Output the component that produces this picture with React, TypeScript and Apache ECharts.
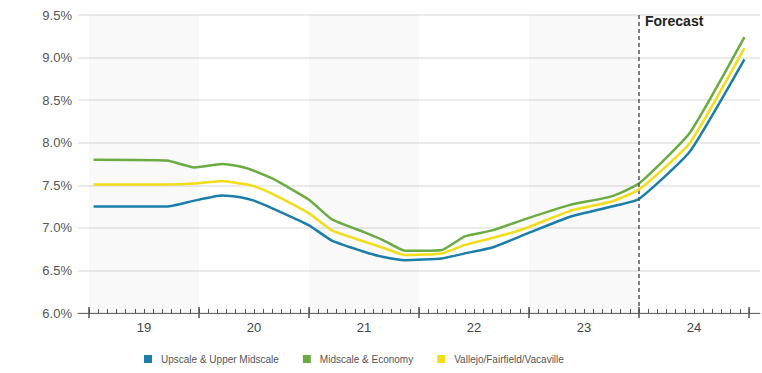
import React, { useEffect, useRef } from "react";
import * as echarts from "echarts";

// Month positions (0 = start of 2019) of the readings
const months = [0.5, 8.5, 11.5, 14.5, 16.5, 18, 20, 24, 26.5, 30, 32, 34.5, 38.5, 41, 44, 47.5, 52.5, 57, 60, 65.5, 71.5];

const upscale = [7.25, 7.25, 7.32, 7.38, 7.36, 7.32, 7.23, 7.03, 6.85, 6.72, 6.66, 6.62, 6.64, 6.70, 6.77, 6.92, 7.13, 7.25, 7.34, 7.89, 8.98];
const midscale = [7.80, 7.79, 7.71, 7.75, 7.72, 7.67, 7.58, 7.33, 7.10, 6.95, 6.86, 6.73, 6.74, 6.90, 6.97, 7.10, 7.27, 7.37, 7.52, 8.11, 9.24];
const market = [7.51, 7.51, 7.52, 7.55, 7.52, 7.49, 7.40, 7.17, 6.97, 6.84, 6.77, 6.68, 6.70, 6.80, 6.88, 6.99, 7.20, 7.31, 7.45, 7.99, 9.11];

const seriesNames = ["Upscale & Upper Midscale", "Midscale & Economy", "Vallejo/Fairfield/Vacaville"];
const seriesColors = ["#1b7ea8", "#6aac42", "#f3dc18"];

const yearLabels = ["19", "20", "21", "22", "23", "24"];
const yearStarts = [0, 12, 24, 36, 48, 60, 72];
const shadedYears = [[0, 12], [24, 36], [48, 60]];
const forecastStart = 60;

const FONT = "Liberation Sans, Arial, sans-serif";

export default function App() {
  const ref = useRef<HTMLDivElement>(null);

  useEffect(() => {
    if (!ref.current) return;
    const chart = echarts.init(ref.current, null, { renderer: "svg" });
    const monthTicks = Array.from({ length: 73 }, (_, i) => i);
    const labelValues = yearLabels.map((_, i) => i * 12 + 6);
    const toPairs = (vals: number[]) => months.map((m, i) => [m, vals[i]]);

    // extra tick-only axes sharing the bottom edge
    const tickAxis = (values: number[], length: number, width: number) => ({
      type: "value",
      min: -1.2,
      max: 73.2,
      position: "bottom",
      axisLine: { show: false },
      axisTick: {
        show: true,
        inside: true,
        customValues: values,
        length,
        lineStyle: { color: "#555", width },
      },
      axisLabel: { show: false },
      splitLine: { show: false },
    });

    chart.setOption({
      animation: false,
      backgroundColor: "#ffffff",
      textStyle: { fontFamily: FONT },
      grid: { left: 78, right: 2, top: 15, bottom: 60 },
      legend: {
        bottom: 4,
        left: 139,
        icon: "rect",
        itemWidth: 8,
        itemHeight: 8,
        itemGap: 24,
        textStyle: { fontSize: 10, color: "#555", fontFamily: FONT, padding: [0, 0, 0, 4] },
        data: seriesNames,
      },
      xAxis: [
        {
          type: "value",
          min: -1.2,
          max: 73.2,
          axisLine: { show: true, lineStyle: { color: "#666", width: 1 } },
          axisTick: {
            show: true,
            customValues: yearStarts,
            length: 5,
            lineStyle: { color: "#555", width: 1.5 },
          },
          axisLabel: {
            customValues: labelValues,
            formatter: (v: number) => yearLabels[Math.round((v - 6) / 12)] ?? "",
            color: "#444",
            fontSize: 13,
            margin: 8,
            fontFamily: FONT,
          },
          splitLine: { show: false },
        },
        tickAxis(monthTicks, 4, 1),
        tickAxis(yearStarts, 6, 1.5),
      ],
      yAxis: {
        type: "value",
        min: 6,
        max: 9.5,
        interval: 0.5,
        axisLine: { show: false },
        axisTick: { show: false },
        axisLabel: {
          formatter: (v: number) => v.toFixed(1) + "%",
          color: "#555",
          fontSize: 13,
          margin: 6,
          fontFamily: FONT,
        },
        splitLine: { show: true, lineStyle: { color: "#e4e4e4", width: 1.5 } },
      },
      series: [
        {
          name: seriesNames[0],
          type: "line",
          data: toPairs(upscale),
          showSymbol: false,
          smooth: 0.15,
          lineStyle: { width: 2.5, color: seriesColors[0] },
          itemStyle: { color: seriesColors[0] },
          z: 4,
          markArea: {
            silent: true,
            itemStyle: { color: "rgba(0,0,0,0.022)" },
            data: shadedYears.map(([a, b]) => [{ xAxis: a }, { xAxis: b }]),
          },
          markLine: {
            silent: true,
            symbol: "none",
            label: { show: false },
            lineStyle: { color: "#555", type: [4, 3], width: 1.5 },
            data: [{ xAxis: forecastStart }],
          },
        },
        {
          name: seriesNames[1],
          type: "line",
          data: toPairs(midscale),
          showSymbol: false,
          smooth: 0.15,
          lineStyle: { width: 2.5, color: seriesColors[1] },
          itemStyle: { color: seriesColors[1] },
          z: 3,
        },
        {
          name: seriesNames[2],
          type: "line",
          data: toPairs(market),
          showSymbol: false,
          smooth: 0.15,
          lineStyle: { width: 2.5, color: seriesColors[2] },
          itemStyle: { color: seriesColors[2] },
          z: 5,
        },
      ],
      graphic: [
        {
          type: "text",
          left: 645,
          top: 14,
          style: {
            text: "Forecast",
            fontSize: 14,
            fontWeight: "bold",
            fill: "#222",
            fontFamily: FONT,
          },
        },
      ],
    });

    return () => chart.dispose();
  }, []);

  return <div ref={ref} style={{ width: 762, height: 373, position: "absolute", left: 0, top: 0 }} />;
}
